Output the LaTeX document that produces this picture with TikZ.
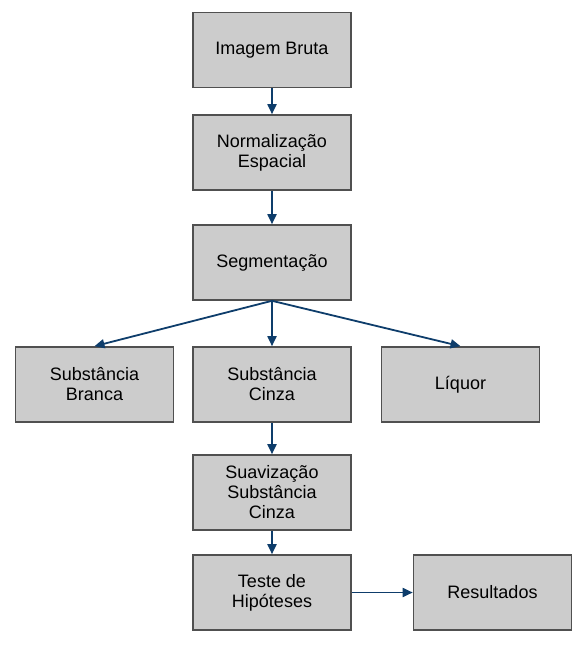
\documentclass[tikz,border=0pt]{standalone}
\usepackage{fontspec}
\setmainfont{Liberation Sans}
\usepackage{xcolor}
\usetikzlibrary{arrows.meta}
\definecolor{boxgray}{HTML}{CCCCCC}
\definecolor{edgegray}{HTML}{505050}
\definecolor{linkblue}{HTML}{0E3D6B}

\tikzset{
  etapa/.style={draw=edgegray, fill=boxgray, line width=1.6pt,
                minimum width=158pt, minimum height=75pt,
                align=center, inner sep=2pt,
                font=\fontsize{18}{20}\selectfont},
  seta/.style={-{Triangle[length=10pt,width=9pt]}, draw=linkblue,
               line width=1.8pt}
}

\begin{document}
\begin{tikzpicture}[x=1pt, y=-1pt]
    \useasboundingbox (0,0) rectangle (586,646);
    \node[etapa] (img) at (272,50) {Imagem Bruta};
    \node[etapa] (norm) at (272,152.5) {Normalização\\Espacial};
    \node[etapa] (seg) at (272,262.5) {Segmentação};
    \node[etapa] (branca) at (94.5,384.5) {Substância\\Branca};
    \node[etapa] (cinza) at (272,384.5) {Substância\\Cinza};
    \node[etapa] (liquor) at (460.5,384.5) {Líquor};
    \node[etapa] (suav) at (272,492.5) {Suavização\\Substância\\Cinza};
    \node[etapa] (teste) at (272,592.5) {Teste de\\Hipóteses};
    \node[etapa] (res) at (492.5,592.5) {Resultados};
    \path
      (img) edge[seta] (norm)
      (norm) edge[seta] (seg)
      (seg.south) edge[seta] (branca.north)
      (seg) edge[seta] (cinza)
      (seg.south) edge[seta] (liquor.north)
      (cinza) edge[seta] (suav)
      (suav) edge[seta] (teste)
      (teste) edge[seta] (res);
  \end{tikzpicture}
\end{document}
